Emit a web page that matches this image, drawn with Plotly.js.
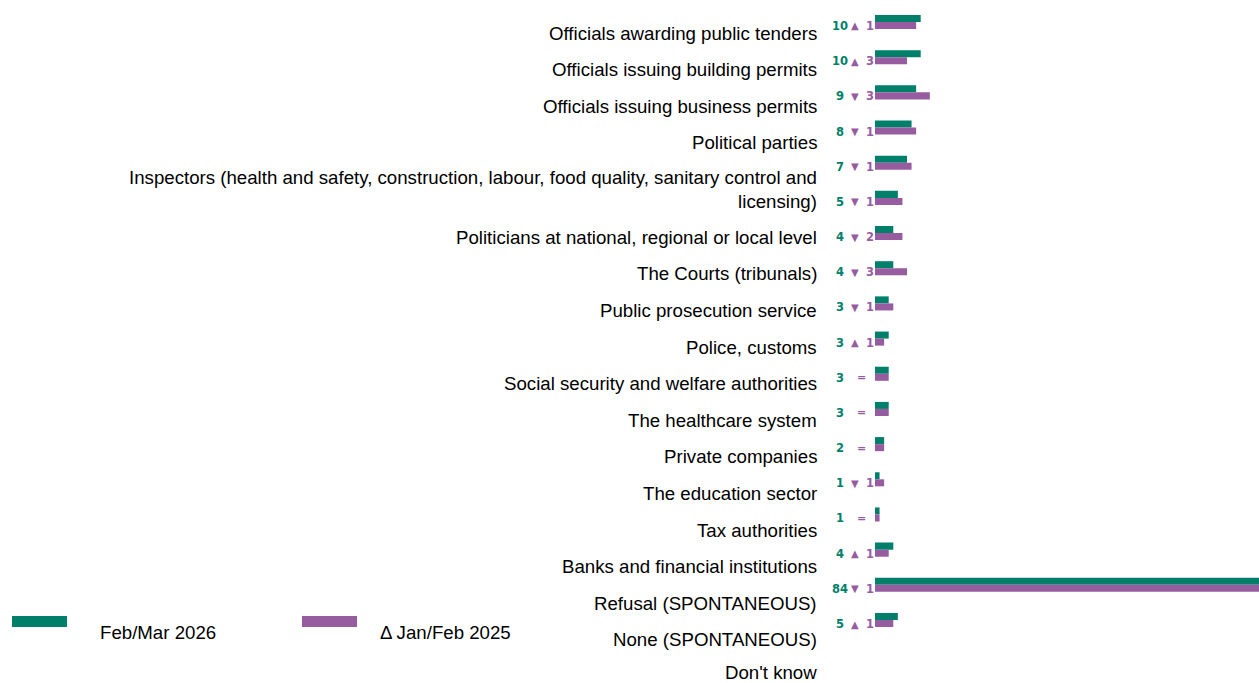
<!DOCTYPE html>
<html>
<head>
<meta charset="utf-8">
<script src="https://cdn.plot.ly/plotly-3.0.1.min.js"></script>
<style>html,body{margin:0;padding:0;background:#fff;}#chart{width:1259px;height:683px;}</style>
</head>
<body>
<div id="chart"></div>
<script>
const categories = [
  "Officials awarding public tenders",
  "Officials issuing building permits",
  "Officials issuing business permits",
  "Political parties",
  "Inspectors (health and safety, construction, labour, food quality, sanitary control and licensing)",
  "Politicians at national, regional or local level",
  "The Courts (tribunals)",
  "Public prosecution service",
  "Police, customs",
  "Social security and welfare authorities",
  "The healthcare system",
  "Private companies",
  "The education sector",
  "Tax authorities",
  "Banks and financial institutions",
  "Refusal (SPONTANEOUS)",
  "None (SPONTANEOUS)",
  "Don't know"
];
const current  = [10, 10, 9, 8, 7, 5, 4, 4, 3, 3, 3, 3, 2, 1, 1, 4, 84, 5];
const previous = [9, 7, 12, 9, 8, 6, 6, 7, 4, 2, 3, 3, 2, 2, 1, 3, 85, 4];
const change   = [1, 3, -3, -1, -1, -1, -2, -3, -1, 1, 0, 0, 0, -1, 0, 1, -1, 1];
const seriesNames = ["Feb/Mar 2026", "\u0394 Jan/Feb 2025"];

const GREEN = "#00806A";
const PURPLE = "#975C9F";
const W = 1259, H = 683;

// label rows: HTML-table-like row heights (label column)
const tickLabels = categories.map(c => c.replace(" licensing)", "<br>licensing)"));
const rowH = 36.6, lineH = 21.2;
let rowTop = 14.7;
const labelPos = tickLabels.map(t => {
  const n = t.split("<br>").length;
  const h = rowH + (n - 1) * lineH;
  const c = rowTop + h / 2;
  rowTop += h;
  return Math.min(c, H - 11);
});

const traces = [
  {type: "bar", orientation: "h", name: seriesNames[0], y: categories, x: current,
   marker: {color: GREEN}, showlegend: false, hoverinfo: "x+y"},
  {type: "bar", orientation: "h", name: seriesNames[1], y: categories, x: previous,
   marker: {color: PURPLE}, showlegend: false, hoverinfo: "x+y"}
];

const labelFont = {family: "Liberation Sans, Arial, sans-serif", size: 18.67, color: "#000"};
const numFont = {family: "DejaVu Sans, Verdana, sans-serif", size: 11.5, weight: "bold"};
const annotations = [];

// category labels (left column)
tickLabels.forEach((t, i) => {
  annotations.push({xref: "paper", yref: "paper", x: 819 / W, y: 1 - labelPos[i] / H,
    xanchor: "right", yanchor: "middle", align: "right", text: t, showarrow: false,
    font: labelFont});
});

// value / change markers
categories.forEach((c, i) => {
  annotations.push({xref: "x", yref: "y", x: 0, y: c, xanchor: "center", yanchor: "middle",
    xshift: -35, yshift: -4, text: String(current[i]), showarrow: false,
    font: Object.assign({}, numFont, {color: GREEN})});
  if (change[i] === 0) {
    annotations.push({xref: "x", yref: "y", x: 0, y: c, xanchor: "center", yanchor: "middle",
      xshift: -14, yshift: -4, text: "=", showarrow: false,
      font: Object.assign({}, numFont, {color: PURPLE, size: 11})});
  } else {
    annotations.push({xref: "x", yref: "y", x: 0, y: c, xanchor: "center", yanchor: "middle",
      xshift: -20.5, yshift: -4, text: change[i] > 0 ? "\u25B2" : "\u25BC", showarrow: false,
      font: {family: "DejaVu Sans, sans-serif", size: 10, color: PURPLE}});
    annotations.push({xref: "x", yref: "y", x: 0, y: c, xanchor: "center", yanchor: "middle",
      xshift: -5.5, yshift: -4, text: String(Math.abs(change[i])), showarrow: false,
      font: Object.assign({}, numFont, {color: PURPLE})});
  }
});

// legend (wide swatches as in the original)
const shapes = [
  {type: "rect", xref: "paper", yref: "paper", x0: 12 / W, x1: 67 / W, y0: 1 - 627 / H, y1: 1 - 616 / H,
   fillcolor: GREEN, line: {width: 0}},
  {type: "rect", xref: "paper", yref: "paper", x0: 302 / W, x1: 357 / W, y0: 1 - 627 / H, y1: 1 - 616 / H,
   fillcolor: PURPLE, line: {width: 0}}
];
annotations.push({xref: "paper", yref: "paper", x: 98 / W, y: 1 - 632 / H, xanchor: "left", yanchor: "middle",
  text: seriesNames[0], showarrow: false, font: labelFont});
annotations.push({xref: "paper", yref: "paper", x: 378 / W, y: 1 - 632 / H, xanchor: "left", yanchor: "middle",
  text: seriesNames[1], showarrow: false, font: labelFont});

const layout = {
  width: W, height: H,
  margin: {l: 0, r: 0, t: 0, b: 0, pad: 0},
  paper_bgcolor: "#fff", plot_bgcolor: "#fff",
  barmode: "group", bargap: 0.6, bargroupgap: 0,
  xaxis: {domain: [875 / W, 1], range: [0, 84], showgrid: false, zeroline: false,
          showticklabels: false, ticks: "", showline: false, fixedrange: true},
  yaxis: {domain: [1 - 637.6 / H, 1 - 4.4 / H], type: "category", range: [17.5, -0.5],
          showticklabels: false, ticks: "", showgrid: false, zeroline: false, showline: false,
          automargin: false, fixedrange: true},
  shapes: shapes,
  annotations: annotations,
  showlegend: false
};

Plotly.newPlot("chart", traces, layout, {displayModeBar: false});
</script>
</body>
</html>
